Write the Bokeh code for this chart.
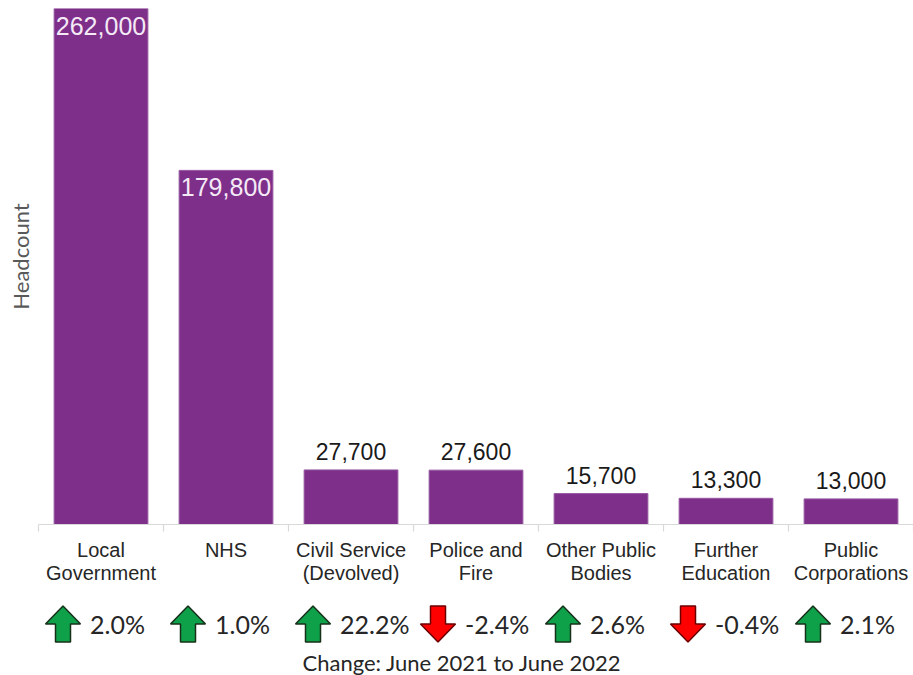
import math
from bokeh.plotting import figure
from bokeh.models import Range1d, ColumnDataSource
from bokeh.core.properties import value
from bokeh.embed import file_html
from bokeh.resources import INLINE

# ---------------- data ----------------
categories = ["Local\nGovernment", "NHS", "Civil Service\n(Devolved)", "Police and\nFire",
              "Other Public\nBodies", "Further\nEducation", "Public\nCorporations"]
headcount = [262000, 179800, 27700, 27600, 15700, 13300, 13000]
change_pct = [2.0, 1.0, 22.2, -2.4, 2.6, -0.4, 2.1]
y_axis_title = "Headcount"
footnote = "Change:  June 2021 to June 2022"

# ---------------- layout ----------------
W, H = 913, 675
LEFT, TOP = 38, 8        # pixels left of the first category slot / above the tallest bar
CAT_PX = 125             # pixels per category slot
BASE_PX = 516            # pixels from frame top down to the bar baseline
Y_MAX = 262000
PX_Y = Y_MAX / BASE_PX   # data units per pixel (vertical)
PX_X = 1 / CAT_PX        # data units per pixel (horizontal)
Y_MIN = -(H - TOP - BASE_PX) * PX_Y
n = len(categories)

PURPLE = "#7E2F8A"
GREEN = "#0FA04A"
RED = "#FF0000"
TXT = "#262626"

p = figure(width=W, height=H, output_backend="svg", toolbar_location=None,
           x_range=Range1d(-0.5 - LEFT * PX_X, n - 0.5), y_range=Range1d(Y_MIN, Y_MAX),
           x_axis_type=None, y_axis_type=None,
           min_border_left=0, min_border_right=0, min_border_top=TOP, min_border_bottom=0)
p.outline_line_color = None
p.xgrid.visible = False
p.ygrid.visible = False
p.background_fill_color = "white"
p.border_fill_color = "white"

idx = list(range(n))

# bars
p.vbar(x=idx, top=headcount, width=0.75, bottom=0, fill_color=PURPLE, line_color="#9556A0",
       line_width=1)

# baseline & boundary ticks
p.segment(x0=[-0.5], y0=[0], x1=[n - 0.5], y1=[0], line_color="#D9D9D9", line_width=1.2)
p.segment(x0=[i - 0.5 for i in range(n + 1)], y0=[0] * (n + 1),
          x1=[i - 0.5 for i in range(n + 1)], y1=[-7 * PX_Y] * (n + 1),
          line_color="#D9D9D9", line_width=1.2)

# value labels
vals_txt = [f"{v:,}" for v in headcount]
inside = [v > 100000 for v in headcount]
src_in = ColumnDataSource(dict(x=[i for i in idx if inside[i]],
                               y=[headcount[i] - 17 * PX_Y for i in idx if inside[i]],
                               t=[vals_txt[i] for i in idx if inside[i]]))
src_out = ColumnDataSource(dict(x=[i for i in idx if not inside[i]],
                                y=[headcount[i] + 18.5 * PX_Y for i in idx if not inside[i]],
                                t=[vals_txt[i] for i in idx if not inside[i]]))
p.text(x="x", y="y", text="t", source=src_in, text_align="center", text_baseline="middle",
       text_font=value("Liberation Sans"), text_font_size="25px", text_color="#F4EAF6")
p.text(x="x", y="y", text="t", source=src_out, text_align="center", text_baseline="middle",
       text_font=value("Liberation Sans"), text_font_size="23px", text_color="#1A1A1A")

# category labels (two lines)
line1 = [c.split("\n")[0] for c in categories]
line2 = [c.split("\n")[1] if "\n" in c else "" for c in categories]
p.text(x=idx, y=[-25.5 * PX_Y] * n, text=line1, text_align="center", text_baseline="middle",
       text_font=value("Liberation Sans"), text_font_size="20px", text_color=TXT)
p.text(x=idx, y=[-48.5 * PX_Y] * n, text=line2, text_align="center", text_baseline="middle",
       text_font=value("Liberation Sans"), text_font_size="20px", text_color=TXT)

# change arrows
up_shape = [(-7.5, -18), (7.5, -18), (7.5, 0), (17.5, 0), (0, 18), (-17.5, 0), (-7.5, 0)]
xs_up, ys_up, xs_dn, ys_dn = [], [], [], []
for i, c in enumerate(change_pct):
    cx = i - 38 * PX_X
    cy = -99.5 * PX_Y
    if c >= 0:
        xs_up.append([cx + dx * PX_X for dx, dy in up_shape])
        ys_up.append([cy + dy * PX_Y for dx, dy in up_shape])
    else:
        xs_dn.append([cx + dx * PX_X for dx, dy in up_shape])
        ys_dn.append([cy - dy * PX_Y for dx, dy in up_shape])
p.patches(xs=xs_up, ys=ys_up, fill_color=GREEN, line_color="#17301A", line_width=1.5)
p.patches(xs=xs_dn, ys=ys_dn, fill_color=RED, line_color="#6B0000", line_width=1.5)

# change percentages
pct_txt = [f"{c:.1f}%" for c in change_pct]
p.text(x=[i - 11 * PX_X for i in idx], y=[-99 * PX_Y] * n, text=pct_txt,
       text_align="left", text_baseline="middle",
       text_font=value("Lato"), text_font_size="25px", text_color=TXT)

# footnote
p.text(x=[(n - 1) / 2 - 11 * PX_X], y=[-137.5 * PX_Y], text=[footnote],
       text_align="center", text_baseline="middle",
       text_font=value("Lato"), text_font_size="22px", text_color=TXT)

# y axis title
p.text(x=[-0.5 - 18 * PX_X], y=[268 * PX_Y], text=[y_axis_title], angle=math.pi / 2,
       text_align="center", text_baseline="middle",
       text_font=value("Lato"), text_font_size="22px", text_color="#595959")

open("out.html", "w").write(file_html(p, INLINE))
